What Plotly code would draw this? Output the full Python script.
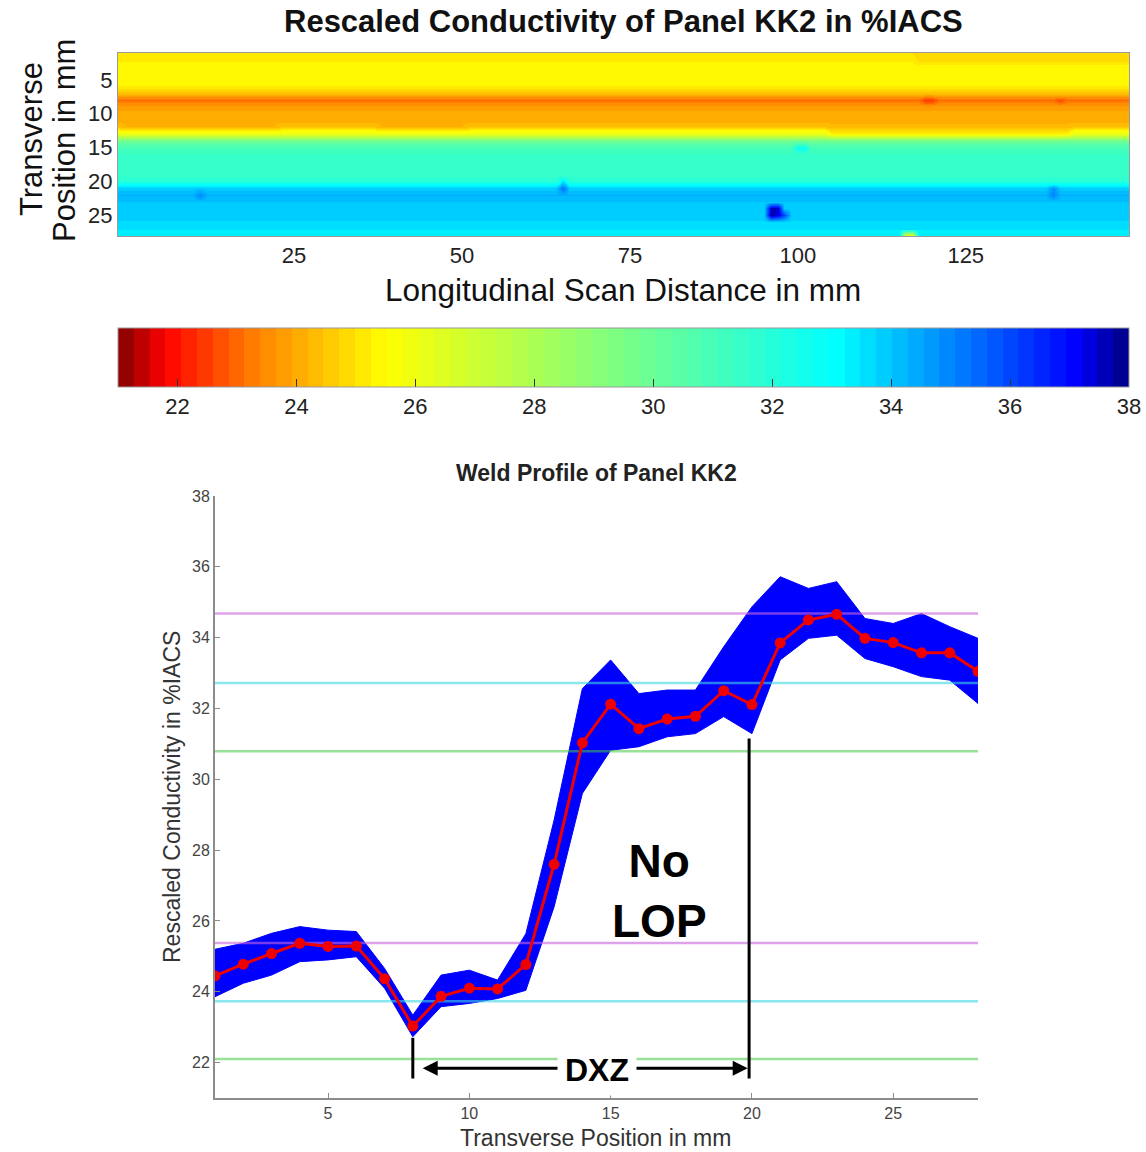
import numpy as np
import plotly.graph_objects as go

FONT = "Liberation Sans, Arial, sans-serif"
W, H = 1146, 1152

# ---------------- data ----------------
# Weld profile: transverse positions and statistics over all longitudinal scans
transverse_mm = list(range(1, 29))
mean_iacs = [24.45, 24.78, 25.08, 25.37, 25.28, 25.29, 24.37, 23.03, 23.87, 24.10,
             24.08, 24.77, 27.60, 31.03, 32.12, 31.43, 31.70, 31.78, 32.50, 32.11,
             33.85, 34.50, 34.66, 33.98, 33.86, 33.57, 33.57, 33.05]
scan_max = [25.20, 25.37, 25.65, 25.84, 25.74, 25.70, 24.66, 23.34, 24.47, 24.61,
            24.33, 25.64, 28.85, 32.56, 33.37, 32.42, 32.52, 32.52, 33.74, 34.87,
            35.72, 35.39, 35.58, 34.54, 34.40, 34.68, 34.31, 33.98]
scan_min = [23.86, 24.24, 24.47, 24.85, 24.90, 24.99, 24.10, 22.73, 23.58, 23.67,
            23.81, 24.04, 26.40, 29.60, 30.82, 30.92, 31.20, 31.29, 31.77, 31.29,
            33.37, 33.98, 34.07, 33.41, 33.18, 32.90, 32.80, 32.14]

# reference levels (parent metal side / weld side)
upper_levels = [34.68, 32.72, 30.79]
lower_levels = [25.38, 23.73, 22.10]
level_colors = ["rgba(200,100,220,0.6)", "rgba(60,215,225,0.6)", "rgba(70,200,70,0.55)"]

# DXZ extent (mm) and marker line bottoms
dxz_start, dxz_end = 8.0, 19.9
dxz_start_top, dxz_end_top, dxz_bottom = 22.70, 31.15, 21.55
dxz_arrow_y = 21.84
dxz_label_x = 14.5

# Conductivity map: row levels along the transverse direction
heat_rows = [25.0, 25.2, 25.4, 25.5, 25.5, 25.2, 24.2, 23.1, 23.85, 24.0,
             24.1, 24.5, 26.3, 30.0, 31.0, 31.4, 31.4, 31.4, 31.5, 31.9,
             33.9, 34.3, 34.0, 33.9, 34.0, 33.7, 33.5, 33.4]
scan_start, scan_stop = -1, 149          # longitudinal scan positions, mm
# local patches along the scan: (from mm, to mm, transverse row, value)
heat_patches = [(0, 22, 12, 24.2), (38, 50, 12, 24.2), (105, 140, 13, 25.4),
                (105, 140, 12, 24.3), (118, 149, 1, 24.8), (118, 149, 2, 24.9)]
# isolated spots: (longitudinal mm, transverse row, value)
heat_spots = [(96, 24, 37.5), (97, 24, 37.5), (96, 25, 37.8), (97, 25, 37.2), (98, 25, 36.0),
              (65, 21, 35.3), (65, 20, 33.5), (11, 22, 35.0), (138, 21, 34.8), (138, 22, 35.0),
              (119, 8, 22.4), (120, 8, 22.4), (139, 8, 22.6), (116, 28, 27.0), (117, 28, 26.5),
              (100, 15, 32.8), (101, 15, 32.8)]

cbar_ticks = [22, 24, 26, 28, 30, 32, 34, 36, 38]
cmin, cmax = 21, 38
# colour anchors of the map (value, rgb)
color_anchors = [(21.0, (128, 0, 0)), (21.8, (255, 0, 0)), (23.3, (255, 128, 0)),
                 (25.5, (255, 255, 0)), (33.1, (0, 255, 255)), (37.1, (0, 0, 255)),
                 (38.0, (0, 0, 128))]

# ---------------- colour scale (64 discrete levels) ----------------
def anchor_color(v):
    for (v0, c0), (v1, c1) in zip(color_anchors[:-1], color_anchors[1:]):
        if v0 <= v <= v1:
            f = (v - v0) / (v1 - v0)
            return tuple(int(round(a + (b - a) * f)) for a, b in zip(c0, c1))
    return color_anchors[-1][1]

n_levels = 64
colorscale = []
for i in range(n_levels):
    v = cmin + (i + 0.5) * (cmax - cmin) / n_levels
    c = "rgb(%d,%d,%d)" % anchor_color(v)
    colorscale.append([i / n_levels, c])
    colorscale.append([(i + 1) / n_levels, c])

# ---------------- conductivity map ----------------
scan_mm = np.arange(scan_start, scan_stop + 1)
z = np.tile(np.array(heat_rows)[:, None], (1, len(scan_mm)))
for x0, x1, row, val in heat_patches:
    z[row - 1, (scan_mm >= x0) & (scan_mm <= x1)] = val
for xs, row, val in heat_spots:
    z[row - 1, scan_mm == xs] = val


def px(x):
    return x / W


def py(y):
    return 1 - y / H


# colour bar rectangle (pixels)
CB_L, CB_R, CB_T, CB_B = 118, 1129, 328, 387

fig = go.Figure()

fig.add_trace(go.Heatmap(
    x=scan_mm, y=transverse_mm, z=z, zmin=cmin, zmax=cmax, zsmooth="best",
    colorscale=colorscale, xaxis="x", yaxis="y",
    colorbar=dict(
        orientation="h", x=px((CB_L + CB_R) / 2), xanchor="center", y=py(CB_T), yanchor="top",
        len=(CB_R - CB_L) / W, lenmode="fraction", thickness=CB_B - CB_T, thicknessmode="pixels",
        xpad=0, ypad=0, outlinecolor="#9a9a9a", outlinewidth=1,
        tickvals=cbar_ticks, ticks="inside", ticklen=8, tickcolor="#333",
        tickfont=dict(family=FONT, size=22, color="#222"),
    ),
))

# tick marks along the top edge of the colour bar
fig.add_trace(go.Scatter(x=[cmin, cmax], y=[0, 0], mode="markers", marker=dict(opacity=0),
                         xaxis="x3", yaxis="y3", hoverinfo="skip", showlegend=False))

# ---------------- weld profile ----------------
# envelope of all scans
fig.add_trace(go.Scatter(
    x=transverse_mm + transverse_mm[::-1], y=scan_max + scan_min[::-1],
    fill="toself", fillcolor="rgb(0,0,255)", line=dict(color="rgb(0,0,255)", width=1),
    mode="lines", xaxis="x2", yaxis="y2", hoverinfo="skip", showlegend=False,
))
# reference levels
for lvl, col in zip(upper_levels + lower_levels, level_colors + level_colors):
    fig.add_trace(go.Scatter(
        x=[transverse_mm[0], transverse_mm[-1]], y=[lvl, lvl], mode="lines",
        line=dict(color=col, width=2.5), xaxis="x2", yaxis="y2", showlegend=False,
    ))
# mean profile
fig.add_trace(go.Scatter(
    x=transverse_mm, y=mean_iacs, mode="lines+markers",
    line=dict(color="rgb(240,0,0)", width=3),
    marker=dict(color="rgb(240,0,0)", size=11),
    xaxis="x2", yaxis="y2", showlegend=False,
))

# DXZ marker lines
for xv, top in [(dxz_start, dxz_start_top), (dxz_end, dxz_end_top)]:
    fig.add_shape(type="line", xref="x2", yref="y2", x0=xv, x1=xv, y0=dxz_bottom, y1=top,
                  line=dict(color="black", width=3), layer="above")


def paper_text(x, y, text, size, color, angle=0):
    return dict(xref="paper", yref="paper", x=px(x), y=py(y), text=text, textangle=angle,
                xanchor="center", yanchor="middle", showarrow=False,
                font=dict(family=FONT, size=size, color=color))


annotations = [
    dict(xref="x2", yref="y2", x=dxz_start + 0.35, y=dxz_arrow_y, ax=dxz_label_x, ay=dxz_arrow_y,
         axref="x2", ayref="y2", text="", showarrow=True, arrowhead=2, arrowsize=1,
         arrowwidth=3, arrowcolor="black"),
    dict(xref="x2", yref="y2", x=dxz_end - 0.05, y=dxz_arrow_y, ax=dxz_label_x, ay=dxz_arrow_y,
         axref="x2", ayref="y2", text="", showarrow=True, arrowhead=2, arrowsize=1,
         arrowwidth=3, arrowcolor="black"),
    dict(xref="x2", yref="y2", x=dxz_label_x, y=dxz_arrow_y - 0.05, text="<b>DXZ</b>",
         xanchor="center", yanchor="middle",
         showarrow=False, bgcolor="white", borderpad=7,
         font=dict(family=FONT, size=32, color="black")),
    dict(xref="x2", yref="y2", x=16.72, y=26.84, text="<b>No<br>LOP</b>", showarrow=False,
         xanchor="center", yanchor="middle",
         font=dict(family=FONT, size=46, color="black"), align="center"),
    # top panel titles
    paper_text(623, 22, "<b>Rescaled Conductivity of Panel KK2 in %IACS</b>", 31, "#111"),
    paper_text(623, 290, "Longitudinal Scan Distance in mm", 31.5, "#111"),
    paper_text(31, 139, "Transverse", 31, "#111", -90),
    paper_text(64, 141, "Position in mm", 31, "#111", -90),
    # bottom panel titles
    paper_text(596, 473, "<b>Weld Profile of Panel KK2</b>", 23, "#222"),
    paper_text(595, 1138, "Transverse Position in mm", 23, "#333"),
    paper_text(172, 797, "Rescaled Conductivity in %IACS", 23, "#333", -90),
]

fig.update_layout(
    width=W, height=H, margin=dict(l=0, r=0, t=0, b=0, autoexpand=False),
    paper_bgcolor="white", plot_bgcolor="rgba(0,0,0,0)", showlegend=False,
    annotations=annotations,
    xaxis=dict(domain=[px(118), px(1129)], range=[-1.2, 149.3], tickvals=[25, 50, 75, 100, 125],
               ticks="", showline=True, mirror=True, linecolor="#9a9a9a", linewidth=1,
               showgrid=False, zeroline=False, anchor="y",
               tickfont=dict(family=FONT, size=22, color="#222")),
    yaxis=dict(domain=[py(236), py(53)], range=[28.1, 1.0], tickvals=[5, 10, 15, 20, 25],
               ticks="", showline=True, mirror=True, linecolor="#9a9a9a", linewidth=1,
               showgrid=False, zeroline=False, anchor="x",
               tickfont=dict(family=FONT, size=22, color="#222")),
    xaxis2=dict(domain=[px(215), px(978)], range=[1, 28], tickvals=[5, 10, 15, 20, 25],
                ticks="inside", ticklen=5, tickcolor="#8c8c8c", showline=True, mirror=False,
                linecolor="#8c8c8c", linewidth=2, showgrid=False, zeroline=False, anchor="y2",
                tickfont=dict(family=FONT, size=16, color="#444")),
    yaxis2=dict(domain=[py(1098), py(496)], range=[21, 38], tickvals=list(range(22, 39, 2)),
                ticks="inside", ticklen=5, tickcolor="#8c8c8c", showline=True, mirror=False,
                linecolor="#8c8c8c", linewidth=2, showgrid=False, zeroline=False, anchor="x2",
                tickfont=dict(family=FONT, size=16, color="#444")),
    xaxis3=dict(domain=[px(CB_L), px(CB_R)], range=[cmin, cmax], tickvals=cbar_ticks,
                side="top", ticks="inside", ticklen=8, tickcolor="#333", showticklabels=False,
                showline=False, showgrid=False, zeroline=False, anchor="y3", fixedrange=True),
    yaxis3=dict(domain=[py(CB_B), py(CB_T)], range=[0, 1], visible=False, anchor="x3",
                fixedrange=True),
)

fig.write_html("out.html")
